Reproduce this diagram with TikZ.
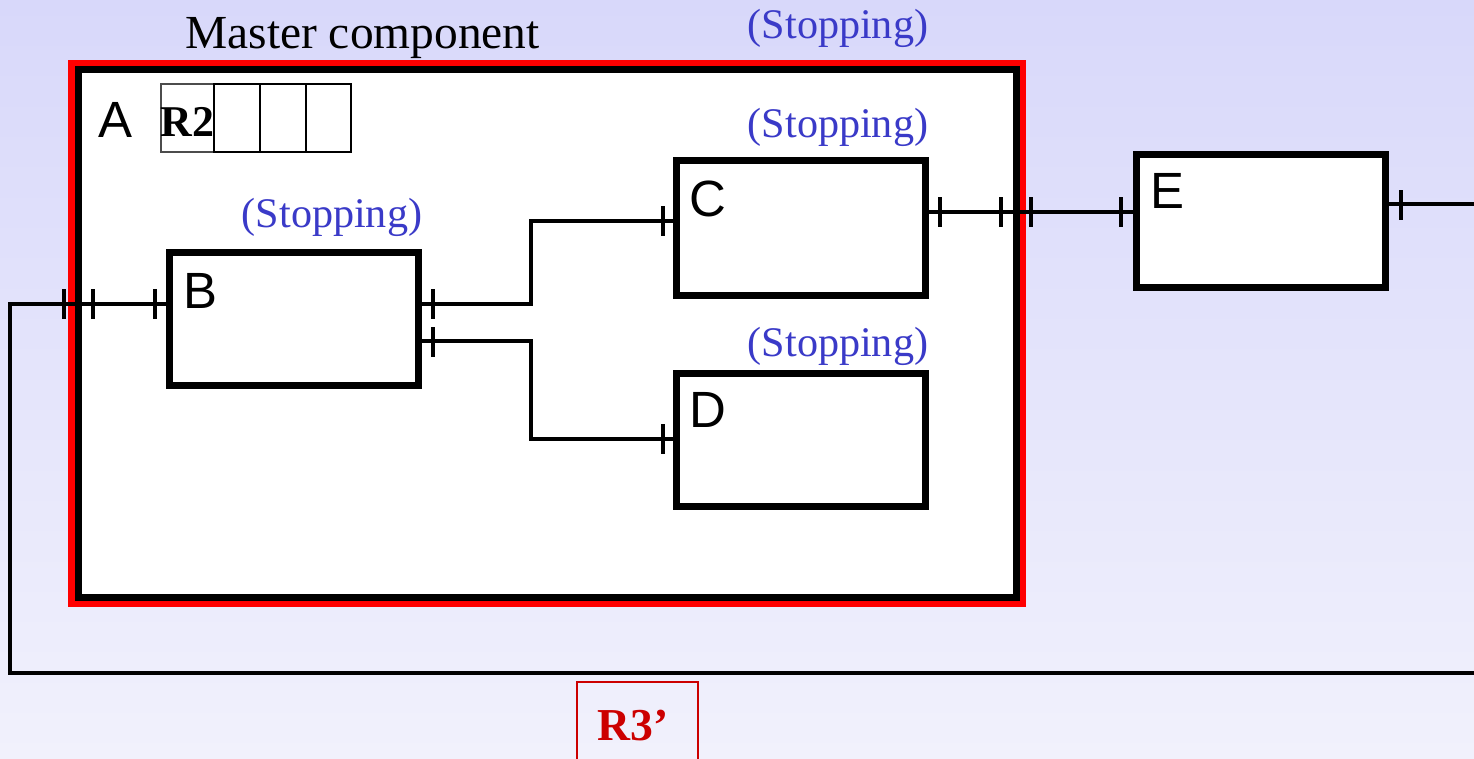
\documentclass[tikz,border=0pt]{standalone}
\usepackage{fontspec}
\setmainfont{Liberation Serif}
\newfontfamily\lsans{Liberation Sans}
\definecolor{bgtop}{RGB}{216,216,250}
\definecolor{bgbot}{RGB}{241,241,252}
\definecolor{stopblue}{RGB}{58,58,200}
\definecolor{rred}{RGB}{204,0,0}
\begin{document}
\begin{tikzpicture}[x=0.02cm,y=-0.02cm,
  blk/.style={draw=black,line width=0.14cm,fill=white,inner sep=0pt},
  conn/.style={draw=black,line width=0.065cm},
  tk/.style={draw=black,line width=0.065cm},
  cell/.style={draw=black,line width=0.04cm},
  stoplbl/.style={text=stopblue,font=\fontsize{24}{26}\selectfont,anchor=base,inner sep=0pt},
  letter/.style={font=\lsans\fontsize{29}{31}\selectfont,anchor=base west,inner sep=0pt}]
\newcommand{\tkv}[2]{\draw[tk] (#1,#2-15) -- (#1,#2+15);}
\useasboundingbox (0,0) rectangle (1474,758);
\shade[top color=bgtop,bottom color=bgbot] (0,0) rectangle (1474,758);
% master component
\node[draw=red,line width=0.14cm,inner sep=0pt,minimum width=19.04cm,minimum height=10.82cm] (Ared) at (547,333.5) {};
\node[blk,minimum width=18.78cm,minimum height=10.56cm] (A) at (547.5,333.5) {};
\node[font=\fontsize{27}{29}\selectfont,anchor=base west,inner sep=0pt] (mc) at (185,48) {Master component};
% boxes
\node[blk,minimum width=5.0cm,minimum height=2.68cm] (B) at (294,319) {};
\node[blk,minimum width=4.99cm,minimum height=2.72cm] (C) at (800.75,228) {};
\node[blk,minimum width=4.99cm,minimum height=2.68cm] (D) at (800.75,440) {};
\node[blk,minimum width=5.0cm,minimum height=2.68cm] (E) at (1261,221) {};
% letters
\node[letter] (Al) at (98,137) {A};
\node[letter] (Bl) at (183,308) {B};
\node[letter] (Cl) at (689,216) {C};
\node[letter] (Dl) at (689,427) {D};
\node[letter] (El) at (1150,208) {E};
% stopping labels
\node[stoplbl] (s0) at (838,38) {(Stopping)};
\node[stoplbl] (s1) at (838,137) {(Stopping)};
\node[stoplbl] (s2) at (332,227) {(Stopping)};
\node[stoplbl] (s3) at (838,356) {(Stopping)};
% R2 queue
\draw[cell,draw=black!70] (161,84) rectangle (213.5,152);
\draw[cell] (213.5,84) rectangle (260,152);
\draw[cell] (260,84) rectangle (305.5,152);
\draw[cell] (305.5,84) rectangle (350.5,152);
\node[font=\bfseries\fontsize{25}{27}\selectfont,anchor=base west,inner sep=0pt] (R2) at (160,136) {R2};
% connectors
\coordinate (lc) at (10,304);
\coordinate (rb) at (1474,673);
\coordinate (re) at (1474,204);
\coordinate (j1) at (531,304);
\coordinate (j2) at (531,341);
\draw[conn] (B.west |- lc) -- (lc) |- (rb);
\draw[conn] (B.east |- j1) -- (j1) |- (C.west |- 0,221);
\draw[conn] (B.east |- j2) -- (j2) |- (D.west |- 0,439);
\draw[conn] (C.east |- 0,212) -- (E.west |- 0,212);
\draw[conn] (E.east |- re) -- (re);
% ticks
\tkv{64}{304}\tkv{93}{304}\tkv{155}{304}
\tkv{433}{304}\tkv{433}{342}
\tkv{663}{221}\tkv{663}{439}
\tkv{940}{212}\tkv{1001}{212}\tkv{1031}{212}\tkv{1121}{212}
\tkv{1401}{205}
% R3'
\node[draw=rred,line width=0.035cm,minimum width=2.42cm,minimum height=2.2cm,inner sep=0pt,anchor=north] (R3box) at (637.5,681) {};
\node[text=rred,font=\bfseries\fontsize{26}{28}\selectfont,anchor=base,inner sep=0pt] (R3) at (633,740) {R3’};
\end{tikzpicture}
\end{document}
